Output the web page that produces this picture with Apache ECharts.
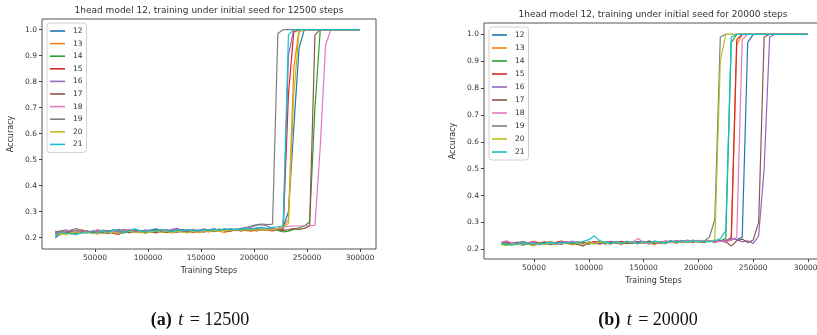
<!DOCTYPE html>
<html><head><meta charset="utf-8">
<script src="https://cdn.jsdelivr.net/npm/echarts@6/dist/echarts.min.js"></script>
<style>html,body{margin:0;padding:0;background:#fff;overflow:hidden;width:817px;height:335px}#c{width:830px;height:335px}</style>
</head><body><div id="c"></div>
<script>
const seeds = ['12','13','14','15','16','17','18','19','20','21'];
const colors = ['#1f77b4','#ff7f0e','#2ca02c','#d62728','#9467bd','#8c564b','#e377c2','#7f7f7f','#bcbd22','#17becf'];
const xTicks = [50000,100000,150000,200000,250000,300000];
const yTicks = [0.2,0.3,0.4,0.5,0.6,0.7,0.8,0.9,1.0];
const titleA = '1head model 12, training under initial seed for 12500 steps';
const titleB = '1head model 12, training under initial seed for 20000 steps';

// (a) t = 12500
const stepsA = [12500,17500,22500,27500,32500,37500,42500,47500,52500,57500,
62500,67500,72500,77500,82500,87500,92500,97500,102500,107500,
112500,117500,122500,127500,132500,137500,142500,147500,152500,157500,
162500,167500,172500,177500,182500,187500,192500,197500,202500,207500,
212500,217500,222500,227500,232500,237500,242500,247500,252500,257500,
262500,267500,272500,277500,282500,287500,292500,297500,300000];
const a12 = [0.200,0.215,0.225,0.220,0.228,0.222,0.225,0.218,0.230,0.224,
0.220,0.228,0.225,0.219,0.226,0.231,0.222,0.225,0.229,0.234,
0.226,0.221,0.230,0.225,0.231,0.226,0.222,0.229,0.226,0.230,
0.234,0.226,0.231,0.227,0.230,0.233,0.227,0.231,0.234,0.230,
0.233,0.230,0.236,0.240,0.30,0.62,0.93,1,1,1,1,1,1,1,1,1,1,1,1];
const a13 = [0.218,0.212,0.220,0.215,0.222,0.218,0.224,0.219,0.214,0.221,
0.226,0.220,0.216,0.223,0.219,0.225,0.221,0.217,0.224,0.220,
0.226,0.222,0.218,0.225,0.221,0.228,0.223,0.219,0.226,0.222,
0.229,0.224,0.220,0.227,0.231,0.225,0.229,0.224,0.232,0.228,
0.232,0.230,0.235,0.240,0.270,0.85,1,1,1,1,1,1,1,1,1,1,1,1,1];
const a14 = [0.215,0.222,0.218,0.225,0.214,0.220,0.226,0.219,0.223,0.217,
0.224,0.229,0.221,0.218,0.225,0.222,0.228,0.220,0.224,0.230,
0.223,0.219,0.226,0.231,0.224,0.221,0.228,0.224,0.232,0.226,
0.223,0.229,0.233,0.227,0.230,0.234,0.228,0.232,0.236,0.230,
0.232,0.236,0.228,0.222,0.225,0.232,0.238,0.245,0.260,0.70,1,1,1,1,1,1,1,1,1];
const a15 = [0.220,0.226,0.221,0.217,0.224,0.230,0.222,0.218,0.225,0.221,
0.227,0.216,0.213,0.222,0.228,0.224,0.219,0.226,0.222,0.229,
0.224,0.220,0.227,0.223,0.230,0.225,0.221,0.228,0.224,0.231,
0.227,0.233,0.228,0.224,0.231,0.227,0.234,0.230,0.226,0.233,
0.229,0.226,0.232,0.228,0.75,0.99,1,1,1,1,1,1,1,1,1,1,1,1,1];
const a16 = [0.212,0.224,0.230,0.222,0.227,0.219,0.225,0.221,0.228,0.223,
0.219,0.226,0.232,0.224,0.220,0.227,0.223,0.230,0.226,0.222,
0.229,0.225,0.232,0.236,0.227,0.223,0.230,0.226,0.233,0.228,
0.224,0.231,0.227,0.234,0.229,0.233,0.236,0.240,0.248,0.250,
0.245,0.234,0.230,0.236,0.90,1,1,1,1,1,1,1,1,1,1,1,1,1,1];
const a17 = [0.225,0.219,0.223,0.228,0.221,0.225,0.219,0.223,0.227,0.220,
0.215,0.222,0.228,0.223,0.219,0.226,0.221,0.227,0.223,0.218,
0.225,0.230,0.224,0.220,0.227,0.223,0.229,0.225,0.221,0.228,
0.224,0.231,0.226,0.230,0.227,0.233,0.229,0.232,0.228,0.231,
0.234,0.230,0.233,0.228,0.231,0.235,0.232,0.236,0.245,0.98,1,1,1,1,1,1,1,1,1];
const a18 = [0.222,0.218,0.225,0.229,0.221,0.226,0.220,0.224,0.230,0.223,
0.219,0.225,0.221,0.227,0.232,0.224,0.220,0.226,0.222,0.228,
0.224,0.230,0.226,0.222,0.229,0.225,0.231,0.227,0.223,0.230,
0.226,0.232,0.228,0.234,0.229,0.233,0.230,0.235,0.231,0.234,
0.230,0.233,0.236,0.240,0.244,0.245,0.245,0.246,0.246,0.247,0.55,0.94,1,1,1,1,1,1,1];
const a19 = [0.218,0.225,0.221,0.228,0.236,0.224,0.220,0.226,0.222,0.229,
0.225,0.219,0.226,0.232,0.224,0.221,0.227,0.223,0.230,0.226,
0.222,0.229,0.225,0.231,0.227,0.223,0.230,0.226,0.233,0.228,
0.224,0.231,0.227,0.234,0.230,0.236,0.240,0.245,0.250,0.252,
0.250,0.252,0.985,1,1,1,1,1,1,1,1,1,1,1,1,1,1,1,1];
const a20 = [0.210,0.216,0.212,0.219,0.223,0.217,0.221,0.215,0.220,0.224,
0.218,0.222,0.216,0.221,0.225,0.219,0.223,0.217,0.222,0.226,
0.220,0.224,0.219,0.226,0.222,0.218,0.225,0.221,0.227,0.223,
0.228,0.224,0.230,0.226,0.232,0.228,0.233,0.229,0.231,0.228,
0.232,0.229,0.234,0.240,0.255,0.75,0.99,1,1,1,1,1,1,1,1,1,1,1,1];
const a21 = [0.205,0.222,0.218,0.215,0.212,0.220,0.217,0.223,0.219,0.226,
0.221,0.232,0.224,0.220,0.227,0.234,0.226,0.222,0.229,0.225,
0.231,0.227,0.223,0.230,0.226,0.232,0.228,0.224,0.231,0.227,
0.233,0.229,0.235,0.230,0.234,0.231,0.236,0.233,0.238,0.240,
0.236,0.240,0.242,0.245,0.98,1,1,1,1,1,1,1,1,1,1,1,1,1,1];

// (b) t = 20000
const stepsB = [20000,25000,30000,35000,40000,45000,50000,55000,60000,65000,
70000,75000,80000,85000,90000,95000,100000,105000,110000,115000,
120000,125000,130000,135000,140000,145000,150000,155000,160000,165000,
170000,175000,180000,185000,190000,195000,200000,205000,210000,215000,
220000,225000,230000,235000,240000,245000,250000,255000,260000,265000,
270000,275000,280000,285000,290000,295000,300000];
const b12 = [0.222,0.218,0.224,0.220,0.215,0.221,0.226,0.219,0.223,0.217,
0.224,0.221,0.227,0.222,0.218,0.225,0.221,0.228,0.224,0.220,
0.226,0.222,0.229,0.225,0.221,0.227,0.223,0.230,0.226,0.222,
0.228,0.232,0.227,0.231,0.229,0.233,0.230,0.228,0.232,0.229,
0.233,0.230,0.240,0.236,0.245,0.97,1,1,1,1,1,1,1,1,1,1,1];
const b13 = [0.225,0.221,0.218,0.224,0.229,0.222,0.226,0.220,0.224,0.230,
0.223,0.219,0.226,0.222,0.228,0.224,0.220,0.227,0.232,0.225,
0.221,0.228,0.224,0.230,0.226,0.222,0.229,0.225,0.218,0.226,
0.231,0.227,0.223,0.230,0.226,0.233,0.229,0.226,0.232,0.228,
0.231,0.229,0.235,0.96,1,1,1,1,1,1,1,1,1,1,1,1,1];
const b14 = [0.220,0.216,0.222,0.218,0.224,0.219,0.215,0.221,0.226,0.220,
0.224,0.219,0.225,0.221,0.227,0.223,0.219,0.226,0.222,0.228,
0.224,0.229,0.225,0.221,0.228,0.224,0.230,0.226,0.222,0.229,
0.225,0.231,0.227,0.232,0.228,0.233,0.229,0.227,0.231,0.228,
0.232,0.240,0.97,1,1,1,1,1,1,1,1,1,1,1,1,1,1];
const b15 = [0.224,0.229,0.222,0.226,0.220,0.225,0.230,0.223,0.227,0.221,
0.226,0.231,0.224,0.228,0.222,0.227,0.223,0.229,0.225,0.221,
0.228,0.224,0.230,0.226,0.222,0.229,0.225,0.231,0.227,0.223,
0.230,0.226,0.232,0.228,0.231,0.227,0.233,0.229,0.232,0.228,
0.231,0.228,0.245,0.98,1,1,1,1,1,1,1,1,1,1,1,1,1];
const b16 = [0.219,0.225,0.221,0.227,0.223,0.218,0.224,0.220,0.226,0.222,
0.217,0.224,0.229,0.222,0.226,0.221,0.227,0.223,0.219,0.225,
0.230,0.224,0.220,0.227,0.223,0.229,0.225,0.221,0.228,0.224,
0.231,0.227,0.232,0.229,0.233,0.230,0.228,0.232,0.229,0.233,
0.230,0.234,0.240,0.236,0.228,0.232,0.222,0.250,0.50,0.99,1,1,1,1,1,1,1];
const b17 = [0.221,0.226,0.219,0.224,0.228,0.222,0.217,0.223,0.227,0.221,
0.225,0.220,0.226,0.222,0.218,0.212,0.224,0.220,0.226,0.221,
0.227,0.223,0.219,0.226,0.222,0.228,0.224,0.220,0.227,0.223,
0.229,0.225,0.231,0.227,0.230,0.226,0.232,0.228,0.231,0.227,
0.230,0.228,0.212,0.232,0.238,0.225,0.235,0.30,0.99,1,1,1,1,1,1,1,1];
const b18 = [0.226,0.232,0.224,0.220,0.227,0.223,0.228,0.216,0.222,0.228,
0.224,0.220,0.226,0.231,0.225,0.221,0.227,0.223,0.229,0.225,
0.221,0.228,0.224,0.230,0.226,0.240,0.225,0.221,0.228,0.224,
0.230,0.226,0.232,0.228,0.234,0.229,0.233,0.230,0.232,0.228,
0.231,0.229,0.233,0.245,0.98,1,1,1,1,1,1,1,1,1,1,1,1];
const b19 = [0.221,0.225,0.219,0.223,0.228,0.222,0.218,0.224,0.220,0.226,
0.222,0.227,0.223,0.219,0.225,0.221,0.227,0.223,0.228,0.224,
0.220,0.226,0.222,0.229,0.225,0.221,0.228,0.224,0.230,0.226,
0.223,0.229,0.225,0.231,0.227,0.232,0.228,0.230,0.245,0.31,
0.99,1,1,1,1,1,1,1,1,1,1,1,1,1,1,1,1];
const b20 = [0.218,0.214,0.220,0.216,0.222,0.218,0.214,0.221,0.217,0.223,
0.219,0.225,0.221,0.216,0.223,0.219,0.225,0.221,0.227,0.223,
0.219,0.226,0.222,0.228,0.224,0.220,0.227,0.223,0.229,0.225,
0.221,0.228,0.224,0.230,0.226,0.232,0.228,0.231,0.229,0.235,
0.90,1,1,1,1,1,1,1,1,1,1,1,1,1,1,1,1];
const b21 = [0.223,0.219,0.215,0.221,0.225,0.220,0.224,0.218,0.223,0.227,
0.221,0.226,0.222,0.228,0.224,0.230,0.236,0.250,0.232,0.226,
0.222,0.228,0.224,0.230,0.226,0.222,0.229,0.225,0.231,0.227,
0.223,0.230,0.226,0.232,0.228,0.233,0.229,0.231,0.228,0.232,
0.240,0.270,0.99,1,1,1,1,1,1,1,1,1,1,1,1,1,1];

const valsA = [a12,a13,a14,a15,a16,a17,a18,a19,a20,a21];
const valsB = [b12,b13,b14,b15,b16,b17,b18,b19,b20,b21];

const FONT = 'DejaVu Sans';
const TXT = '#333';
function mkSeries(steps, vals, k) {
  return vals.map((v, j) => ({
    type: 'line', name: seeds[j], xAxisIndex: k, yAxisIndex: k,
    symbol: 'none', animation: false,
    data: steps.map((s, i) => [s, v[i]]).filter(p => p[1] !== undefined),
    lineStyle: { width: 1.2, color: colors[j] },
    itemStyle: { color: colors[j] }
  }));
}
function mkX(k, min, max, gap) {
  return { type: 'value', gridIndex: k, min: min, max: max,
    axisLine: { show: false }, splitLine: { show: false },
    axisTick: { show: true, customValues: xTicks, length: 3, lineStyle: { color: '#444' } },
    axisLabel: { customValues: xTicks, fontSize: 7.5, color: TXT, fontFamily: FONT, margin: 5,
      formatter: v => String(Math.round(v)) },
    name: 'Training Steps', nameLocation: 'middle', nameGap: gap,
    nameTextStyle: { fontSize: 8, color: TXT, fontFamily: FONT } };
}
function mkY(k, min, max) {
  return { type: 'value', gridIndex: k, min: min, max: max,
    axisLine: { show: false }, splitLine: { show: false },
    axisTick: { show: true, customValues: yTicks, length: 3, lineStyle: { color: '#444' } },
    axisLabel: { customValues: yTicks, fontSize: 7.5, color: TXT, fontFamily: FONT, margin: 5,
      formatter: v => v.toFixed(1) },
    name: 'Accuracy', nameLocation: 'middle', nameGap: 27, nameRotate: 90,
    nameTextStyle: { fontSize: 8, color: TXT, fontFamily: FONT } };
}
function mkLegend(left, top, gap) {
  return { data: seeds, orient: 'vertical', left: left, top: top, icon: 'rect',
    itemWidth: 15, itemHeight: 1.6, itemGap: gap, padding: [3, 4, 3, 3],
    borderColor: '#d0d0d0', borderWidth: 1, borderRadius: 3, backgroundColor: '#fff',
    selectedMode: false,
    textStyle: { fontSize: 7.5, color: TXT, fontFamily: FONT, lineHeight: 10, padding: [0, 0, 0, 3] } };
}
function caption(x, letter, val) {
  const f = 'Liberation Serif';
  return { type: 'text', x: x, y: 320, style: {
    text: '{b|(' + letter + ')} {i|t} {n|= ' + val + '}', textAlign: 'center', textVerticalAlign: 'middle',
    fontSize: 18, fill: '#111', fontFamily: f,
    rich: { b: { fontWeight: 'bold', fontSize: 18, fontFamily: f, padding: [0, 2, 0, 0] },
            i: { fontStyle: 'italic', fontSize: 18, fontFamily: f },
            n: { fontSize: 18, fontFamily: f, padding: [0, 0, 0, 2] } } } };
}

const chart = echarts.init(document.getElementById('c'), null, { renderer: 'canvas' });
chart.setOption({
  animation: false,
  backgroundColor: '#fff',
  grid: [
    { left: 42, top: 19, width: 334, height: 230, show: true, borderColor: '#555', borderWidth: 1, backgroundColor: 'transparent' },
    { left: 484, top: 23, width: 339, height: 236, show: true, borderColor: '#555', borderWidth: 1, backgroundColor: 'transparent' }
  ],
  xAxis: [mkX(0, 0, 315100, 18), mkX(1, 4400, 313700, 18)],
  yAxis: [mkY(0, 0.1565, 1.041), mkY(1, 0.164, 1.042)],
  legend: [mkLegend(47, 23, 2.6), mkLegend(489, 27, 3)],
  series: mkSeries(stepsA, valsA, 0).concat(mkSeries(stepsB, valsB, 1)),
  graphic: [
    { type: 'text', x: 209, y: 11, style: { text: titleA, fontSize: 9, fill: TXT, fontFamily: FONT, textAlign: 'center', textVerticalAlign: 'middle' } },
    { type: 'text', x: 653, y: 15, style: { text: titleB, fontSize: 9, fill: TXT, fontFamily: FONT, textAlign: 'center', textVerticalAlign: 'middle' } },
    caption(200, 'a', '12500'),
    caption(648, 'b', '20000')
  ]
});
</script>
</body></html>
